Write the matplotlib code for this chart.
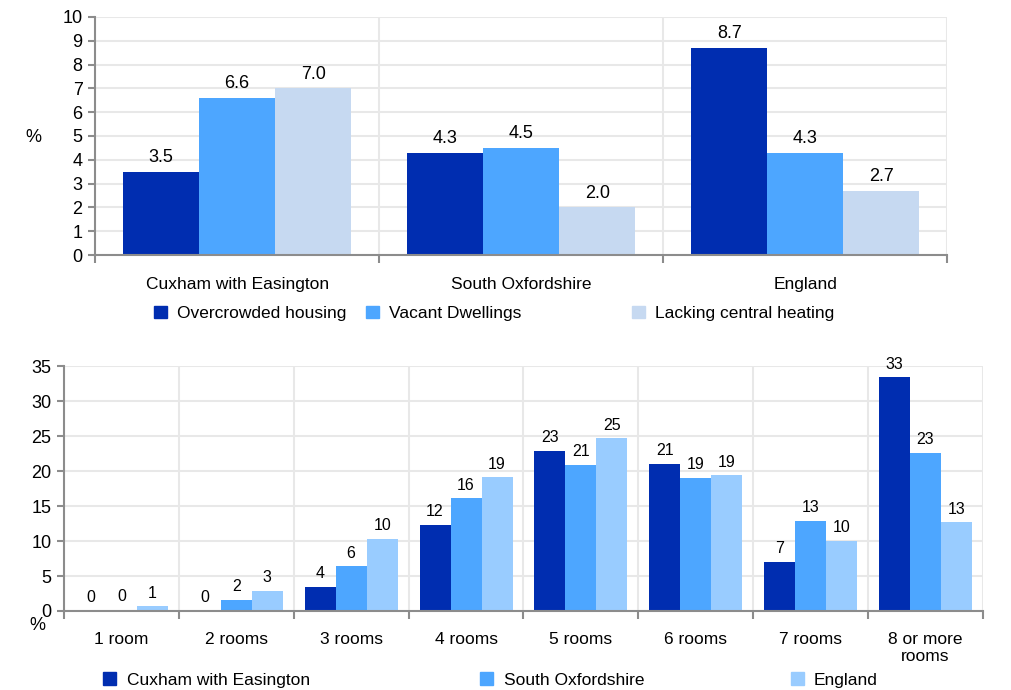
import numpy as np
import matplotlib
matplotlib.use("Agg")
import matplotlib.pyplot as plt
from matplotlib.patches import Patch

plt.rcParams['font.family'] = ['Liberation Sans', 'DejaVu Sans']

# datos - grafico superior
areas = ["Cuxham with Easington", "South Oxfordshire", "England"]
indicadores = ["Overcrowded housing", "Vacant Dwellings", "Lacking central heating"]
overcrowded = [3.5, 4.3, 8.7]
vacant = [6.6, 4.5, 4.3]
sin_calefaccion = [7.0, 2.0, 2.7]

# datos - grafico inferior
habitaciones = ["1 room", "2 rooms", "3 rooms", "4 rooms", "5 rooms",
                "6 rooms", "7 rooms", "8 or more\nrooms"]
zonas = ["Cuxham with Easington", "South Oxfordshire", "England"]
cuxham = [0.0, 0.0, 3.5, 12.3, 22.9, 21.0, 7.0, 33.4]
south_oxon = [0.2, 1.6, 6.4, 16.1, 20.9, 19.0, 12.9, 22.6]
england = [0.7, 2.9, 10.3, 19.1, 24.7, 19.4, 10.0, 12.7]

azul_osc = "#002DB0"
azul_med = "#4DA6FF"
azul_cla_top = "#C6D9F1"
azul_cla_bot = "#99CCFF"
gris_grid = "#E8E8E8"
gris_eje = "#8C8C8C"

fig = plt.figure(figsize=(10.11, 6.9), dpi=100)


def estilo(ax, n, ymax, ypaso):
    ax.set_xlim(-0.5, n - 0.5)
    ax.set_ylim(0, ymax)
    ax.set_yticks(np.arange(0, ymax + 0.01, ypaso))
    ax.set_xticks(np.arange(-0.5, n, 1.0))
    ax.set_xticklabels([])
    ax.grid(True, color=gris_grid, linewidth=1.5, zorder=0)
    ax.set_axisbelow(True)
    for s in ["top", "right"]:
        ax.spines[s].set_visible(False)
    for s in ["left", "bottom"]:
        ax.spines[s].set_color(gris_eje)
        ax.spines[s].set_linewidth(1.5)
    ax.tick_params(axis="x", which="major", length=6, width=1.5, color=gris_eje)
    ax.tick_params(axis="y", length=5, width=1.5, color=gris_eje,
                   labelsize=13, pad=4)
    ax.tick_params(axis="x", which="minor", length=0, labelsize=12.5, pad=16)


# grafico superior
ax1 = fig.add_axes([0.094, 0.6304, 0.843, 0.345])
x = np.arange(len(areas))
w = 0.268
series1 = [overcrowded, vacant, sin_calefaccion]
colores1 = [azul_osc, azul_med, azul_cla_top]
for i, (vals, c) in enumerate(zip(series1, colores1)):
    barras = ax1.bar(x + (i - 1) * w, vals, w, color=c, zorder=2)
    ax1.bar_label(barras, labels=["%.1f" % v for v in vals], padding=4,
                  fontsize=13)
estilo(ax1, len(areas), 10, 1)
ax1.set_xticks(x, minor=True)
ax1.set_xticklabels(areas, minor=True)
fig.text(0.0326, 0.8014, "%", fontsize=13, ha="center", va="center")

# leyenda superior
for etiqueta, c, px in zip(indicadores, colores1, [0.152, 0.362, 0.625]):
    leg = fig.legend([Patch(color=c)], [etiqueta], loc="center left",
                     bbox_to_anchor=(px, 0.546), frameon=False, fontsize=12.5,
                     handlelength=0.75, handleheight=0.75, handletextpad=0.6,
                     borderaxespad=0, borderpad=0)

# grafico inferior
ax2 = fig.add_axes([0.0633, 0.1145, 0.909, 0.355])
x2 = np.arange(len(habitaciones))
w2 = 0.27
series2 = [cuxham, south_oxon, england]
colores2 = [azul_osc, azul_med, azul_cla_bot]
for i, (vals, c) in enumerate(zip(series2, colores2)):
    barras = ax2.bar(x2 + (i - 1) * w2, vals, w2, color=c, zorder=2)
    ax2.bar_label(barras, labels=["%.0f" % v for v in vals], padding=4,
                  fontsize=11.5)
estilo(ax2, len(habitaciones), 35, 5)
ax2.set_xticks(x2, minor=True)
ax2.set_xticklabels(habitaciones, minor=True, va="top", linespacing=1.15)
ax2.tick_params(axis="x", which="minor", pad=15)
fig.text(0.037, 0.0935, "%", fontsize=13, ha="center", va="center")

# leyenda inferior
for etiqueta, c, px in zip(zonas, colores2, [0.102, 0.475, 0.782]):
    fig.legend([Patch(color=c)], [etiqueta], loc="center left",
               bbox_to_anchor=(px, 0.0145), frameon=False, fontsize=12.5,
               handlelength=0.75, handleheight=0.75, handletextpad=0.6,
               borderaxespad=0, borderpad=0)

fig.savefig("out.png", dpi=100)
